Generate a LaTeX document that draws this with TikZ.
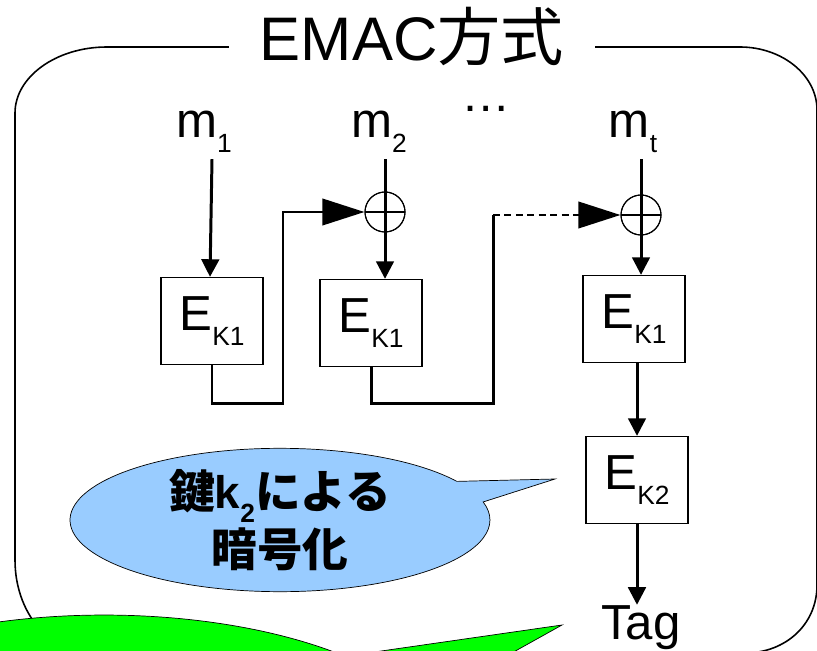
\documentclass[tikz,border=0pt]{standalone}
\usepackage{fontspec}
\setmainfont{Liberation Sans}
\newfontfamily\jp{Noto Sans CJK JP}
\usepackage{xcolor}
\usepackage{tikz}
\usetikzlibrary{arrows.meta,shapes.callouts}
\definecolor{noteblue}{HTML}{99CCFF}
\definecolor{notegreen}{HTML}{00FF00}
\newcommand\lowsub[1]{\raisebox{-0.3em}{\fontsize{15}{15}\selectfont #1}}

\begin{document}
\begin{tikzpicture}[x=0.02cm, y=-0.02cm,
    big/.style={font=\fontsize{28}{28}\selectfont, inner sep=0},
    ebox/.style={draw, line width=0.75pt, minimum width=2.04cm, minimum height=1.74cm, inner sep=0, font=\fontsize{28}{28}\selectfont},
    xorsym/.style={draw, circle, line width=0.6pt, minimum size=0.8cm, inner sep=0,
        path picture={\draw[line width=0.6pt] (path picture bounding box.west) -- (path picture bounding box.east);}},
    flow/.style={line width=1.7pt},
    arr/.style={flow, -{Triangle[length=10pt, width=10pt]}},
    bigarr/.style={flow, -{Triangle[length=24pt, width=15pt]}}]
    \useasboundingbox (0,0) rectangle (817,651);
    \clip (0,0) rectangle (817,651);
    % frame
    \draw[line width=0.9pt] (107,47) -- (740,47) .. controls (782,47) and (817,75) .. (817,110)
        -- (817,585) .. controls (817,625) and (785,653) .. (745,653) -- (90,653)
        .. controls (49,653) and (15,612) .. (15,560) -- (15,113) .. controls (15,77) and (56,47) .. (107,47);
    \node[fill=white, minimum width=7.34cm, inner ysep=2pt, anchor=base] (title) at (412,61)
        {\fontsize{35}{35}\selectfont EMAC{\jp\fontsize{36}{36}\selectfont 方式}};
    % inputs
    \node[big, anchor=base] (m1) at (204,138) {m\lowsub{1}};
    \node[big, anchor=base] (m2) at (379,138) {m\lowsub{2}};
    \node[big, anchor=base] (dots) at (486,112) {\dots};
    \node[big, anchor=base] (mt) at (633,138) {m\lowsub{t}};
    \node[xorsym] (xor1) at (385,212) {};
    \node[xorsym] (xor2) at (641,215) {};
    \node[ebox] (box1) at (212,321) {E\lowsub{K1}};
    \node[ebox] (box2) at (371,323) {E\lowsub{K1}};
    \node[ebox] (box3) at (634,319) {E\lowsub{K1}};
    \node[ebox] (box4) at (637,480) {E\lowsub{K2}};
    \node[big, anchor=base] (tag) at (641,639) {Tag};
    % chain
    \draw[arr] (box1.north |- m1.south) ++(0,6) -- (box1.north -| 210,0);
    \draw[arr] (m2.south -| xor1) ++(0,6) -- (box2.north -| xor1);
    \draw[arr] (mt.south -| xor2) ++(0,6) -- (box3.north -| xor2);
    \draw[bigarr] (box1.south) |- ++(71,38) coordinate (turn1) |- (xor1.west);
    \draw[flow] (box2.south) |- ++(122,36) coordinate (turn2) -- (turn2 |- xor2.west) coordinate (gap2);
    \draw[bigarr, dash pattern=on 4pt off 2.5pt] (gap2) -- (xor2.west);
    \node[xorsym, fill=none] at (xor1) {};
    \node[xorsym, fill=none] at (xor2) {};
    \draw[arr] (box3.south -| box4) -- (box4.north);
    \draw[arr] (box4.south) -- (box4.south |- tag.north);
    % notes
    \coordinate (enctip) at (555,479);
    \coordinate (tagtip) at (562,625);
    \node[ellipse callout, draw, line width=0.4pt, fill=noteblue, minimum width=8.4cm, minimum height=2.3cm,
        inner sep=0, callout absolute pointer={(enctip)}, callout pointer arc=18, align=center,
        font=\fontsize{26}{33}\selectfont\bfseries] (encnote) at (280,520)
        {{\jp 鍵}k\lowsub{2}{\jp による}\\{\jp 暗号化}};
    \node[ellipse callout, draw, line width=0.4pt, fill=notegreen, minimum width=14cm, minimum height=6cm,
        inner sep=0, callout absolute pointer={(tagtip)}, callout pointer arc=22] (tagnote) at (104,765) {};
\end{tikzpicture}
\end{document}
